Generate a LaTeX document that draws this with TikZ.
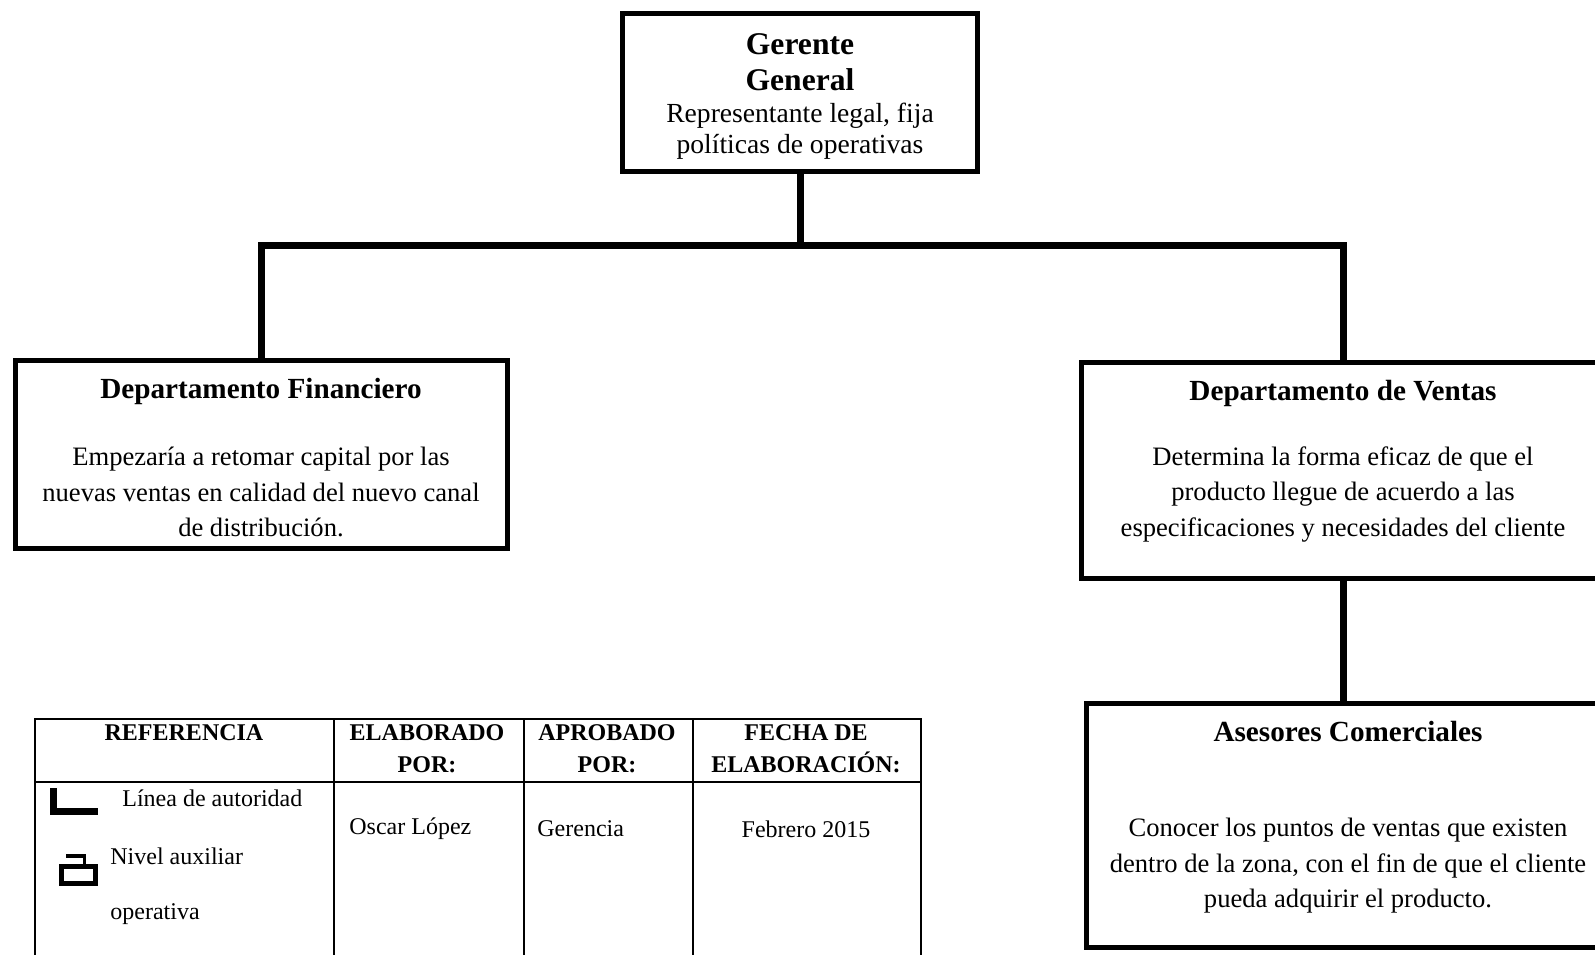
\documentclass[tikz,border=0pt]{standalone}
\usepackage{fontspec}
\setmainfont{Liberation Serif}
\begin{document}
\begin{tikzpicture}[x=0.5pt,y=-0.5pt,
  box/.style={draw, line width=2.5pt, rectangle, inner sep=0pt},
  conn/.style={line width=3.5pt, line join=miter},
  ttl/.style={font=\fontsize{14.6}{17.5}\selectfont\bfseries, inner sep=0pt},
  body/.style={font=\fontsize{13.3}{17.75}\selectfont, align=center, inner sep=0pt},
  tab/.style={font=\fontsize{12}{15.8}\selectfont, inner sep=0pt},
  tabh/.style={font=\fontsize{12}{15.8}\selectfont\bfseries, align=center, inner sep=0pt},
  grid/.style={line width=1pt}]
\useasboundingbox (0,0) rectangle (1595,954);

% boxes
\node[box, minimum width=177.75pt, minimum height=79.25pt] (ger) at (800,92.5) {};
\node[box, minimum width=246.25pt, minimum height=94.25pt] (fin) at (261.5,454.5) {};
\node[box, minimum width=261.75pt, minimum height=108.25pt] (ven) at (1343,470.5) {};
\node[box, minimum width=261.75pt, minimum height=122.25pt] (ase) at (1348,825.5) {};

% box texts
\node[font=\fontsize{15.8}{17.8}\selectfont\bfseries, align=center, inner sep=0pt] (gert) at (800,62) {Gerente\\General};
\node[font=\fontsize{13.8}{15.3}\selectfont, align=center, inner sep=0pt] (gerb) at (800,131) {Representante legal, fija\\políticas de operativas};

\node[ttl] (fint) at (261,391) {Departamento Financiero};
\node[body] (finb) at (261,492) {Empezaría a retomar capital por las\\nuevas ventas en calidad del nuevo canal\\de distribución.};

\node[ttl] (vent) at (1343,393) {Departamento de Ventas};
\node[body] (venb) at (1343,494) {Determina la forma eficaz de que el\\producto llegue de acuerdo a las\\especificaciones y necesidades del cliente};

\node[ttl] (aset) at (1348,731) {Asesores Comerciales};
\node[body] (aseb) at (1348,866) {Conocer los puntos de ventas que existen\\dentro de la zona, con el fin de que el cliente\\pueda adquirir el producto.};

% connectors
\coordinate (bar) at (0,245.5);
\draw[conn] (ger.south) -- (ger.south |- bar);
\draw[conn] (fin.north) |- (bar -| ven.north) -- (ven.north);
\draw[conn] (ven.south) -- (ven.south |- ase.north);

% reference table
\draw[grid] (35,990) -- (35,719) -- (921,719) -- (921,990);
\draw[grid] (35,782) -- (921,782);
\draw[grid] (334,719) -- (334,990);
\draw[grid] (524,719) -- (524,990);
\draw[grid] (693,719) -- (693,990);

\node[tabh] (h1) at (184,733) {REFERENCIA};
\node[tabh] (h2) at (427,749) {ELABORADO\\POR:};
\node[tabh] (h3) at (607,749) {APROBADO\\POR:};
\node[tabh] (h4) at (806,749) {FECHA DE\\ELABORACIÓN:};

\node[tab, anchor=west] (c2) at (349,829) {Oscar López};
\node[tab, anchor=west] (c3) at (537,829) {Gerencia};
\node[tab] (c4) at (806,829) {Febrero 2015};

% legend entries
\draw[line width=3.5pt, line join=miter] (53.5,788) -- (53.5,811) -- (98,811);
\node[tab, anchor=west] (l1) at (122,798) {Línea de autoridad};
\draw[line width=1.6pt] (66,856) -- (84.5,856) -- (84.5,866);
\draw[line width=2.5pt] (61.5,866) rectangle (95.5,883.5);
\node[tab, anchor=west] (l2) at (110,856) {Nivel auxiliar};
\node[tab, anchor=west] (l3) at (110,914) {operativa};
\end{tikzpicture}
\end{document}
